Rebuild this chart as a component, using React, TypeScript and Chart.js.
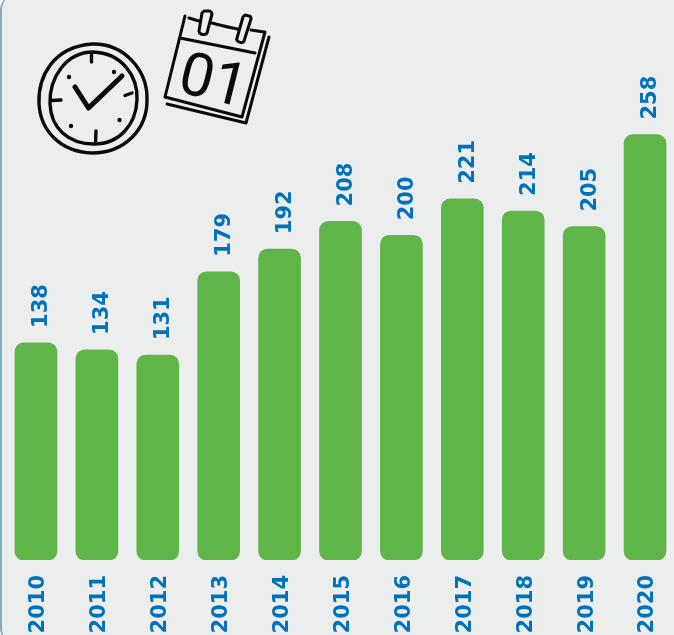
import React, { useEffect, useRef } from "react";
import { Chart, registerables } from "chart.js";

Chart.register(...registerables);

const years = ["2010", "2011", "2012", "2013", "2014", "2015", "2016", "2017", "2018", "2019", "2020"];
const values = [138, 134, 131, 179, 192, 208, 200, 221, 214, 205, 258];
const axisFloor = 13;

const BLUE = "#0072BC";
const GREEN = "#5FB548";
const FONT = '"DejaVu Sans"';

const valueLabels = {
  id: "valueLabels",
  afterDatasetsDraw(chart: any) {
    const { ctx } = chart;
    const meta = chart.getDatasetMeta(0);
    ctx.save();
    ctx.fillStyle = BLUE;
    ctx.font = `bold 21px ${FONT}`;
    ctx.textAlign = "left";
    ctx.textBaseline = "middle";
    meta.data.forEach((bar: any, i: number) => {
      ctx.save();
      ctx.translate(bar.x + 6, bar.y - 15);
      ctx.rotate(-Math.PI / 2);
      ctx.fillText(String(values[i]), 0, 0);
      ctx.restore();
    });
    ctx.restore();
  },
};

const stroke = { fill: "none", stroke: "#0a0a0a", strokeLinecap: "round", strokeLinejoin: "round" } as const;

function Icons() {
  return (
    <svg width={674} height={635} style={{ position: "absolute", left: 0, top: 0, pointerEvents: "none" }}>
      <g {...stroke}>
        <path strokeWidth={3.4} d="M39 103 C38 78 52 47 92 44 C124 43 147 70 147 98 C148 130 124 153 92 153 C60 152 40 130 39 103 Z" />
        <path strokeWidth={3.4} d="M50 104 C49 78 66 52 93 52 C122 53 138 76 137 100 C136 124 120 144 94 144 C68 144 51 128 50 104 Z" />
        <path strokeWidth={3.4} d="M91.5 55 L91.5 62 M125 95.5 L132 93 M96 131 L95.5 143 M51 100.5 L61 100" />
        <path strokeWidth={5} d="M75 87 L88.5 108 L122 76" />
        <g fill="#0a0a0a" stroke="none">
          <circle cx={114} cy={72} r={2.2} />
          <circle cx={119.5} cy={120} r={2.2} />
          <circle cx={71} cy={126} r={2.2} />
          <circle cx={69} cy={77} r={2.2} />
        </g>
        <path strokeWidth={3} d="M185 16 L165 97 L242 117 L265 32 M189 18 L199 21 M212 23 C222 26 228 27 238 29 M251 30 L264 32" />
        <path strokeWidth={3} d="M180 38 L255 53 M269 37 L246 123 L167 104" />
        <path strokeWidth={3} d="M204 11 L209 11 C211 11 212 13 212 14 L207 33 C206 35 204 35 201 34 C199 33 199 32 199 31 L202 13 Z" />
        <path strokeWidth={3} d="M245 15 L249 16 C251 16 251 18 251 19 L244 41 C243 43 241 43 239 42 C237 41 236 40 237 38 L243 17 Z" />
      </g>
      <text
        transform="translate(176 91) rotate(14) scale(1 1)"
        fontFamily="Roboto"
        fontSize={60}
        fontWeight={400}
        fill="#0a0a0a"
      >
        01
      </text>
    </svg>
  );
}

export default function App() {
  const ref = useRef<HTMLCanvasElement>(null);
  useEffect(() => {
    const chart = new Chart(ref.current!, {
      type: "bar",
      data: {
        labels: years,
        datasets: [
          {
            data: values,
            base: axisFloor,
            backgroundColor: GREEN,
            barThickness: 42,
            borderRadius: 9,
            borderSkipped: false,
          },
        ],
      },
      options: {
        animation: false,
        responsive: false,
        layout: { padding: { left: 5.5, right: 4.5, top: 0, bottom: 0 } },
        plugins: { legend: { display: false }, tooltip: { enabled: false } },
        scales: {
          y: { display: false, min: axisFloor, max: 335.5 },
          x: {
            afterFit: (s: any) => {
              s.height = 75;
              s.paddingLeft = 0;
              s.paddingRight = 0;
            },
            grid: { display: false },
            border: { display: false },
            ticks: {
              autoSkip: false,
              minRotation: 90,
              maxRotation: 90,
              padding: 7,
              labelOffset: 3,
              color: BLUE,
              font: { family: FONT, weight: "bold", size: 21 },
            },
          },
        },
      },
      plugins: [valueLabels],
    });
    return () => chart.destroy();
  }, []);
  return (
    <div
      style={{
        position: "fixed",
        left: 0,
        top: 0,
        width: 674,
        height: 635,
        overflow: "hidden",
        background: "#fff",
      }}
    >
      <div
        style={{
          position: "absolute",
          left: 0,
          top: -6,
          width: 690,
          height: 650,
          boxSizing: "border-box",
          background: "#ECEEEE",
          borderLeft: "2px solid #7FAEBE",
          borderRadius: 16,
        }}
      />
      <canvas ref={ref} width={680} height={635} style={{ position: "absolute", left: 0, top: 0, display: "block" }} />
      <Icons />
    </div>
  );
}
